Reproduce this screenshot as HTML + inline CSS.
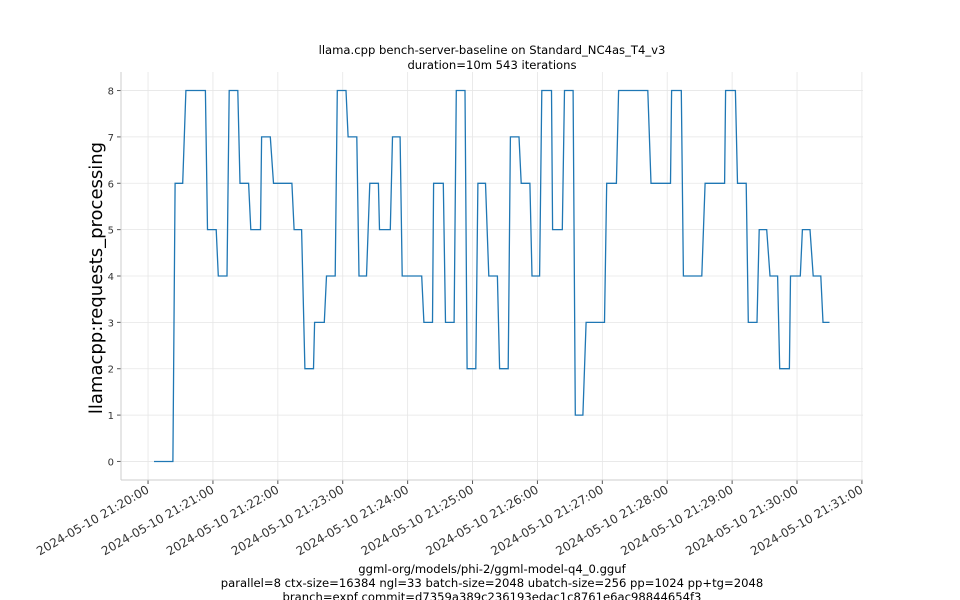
<!DOCTYPE html>
<html><head><meta charset="utf-8"><style>
body{margin:0;background:#fff;}
svg{display:block;font-family:"DejaVu Sans","Liberation Sans",sans-serif;}
</style></head><body>
<svg id="chart" width="960" height="600">
<g id="grid"></g>
<g id="axes"></g>
<path id="series" fill="none" stroke="#1f77b4" stroke-width="1.3"/>
<text x="492" y="54" text-anchor="middle" font-size="11.6" fill="#000">llama.cpp bench-server-baseline on Standard_NC4as_T4_v3</text>
<text x="492" y="69" text-anchor="middle" font-size="11.6" fill="#000">duration=10m 543 iterations</text>
<text transform="translate(102,278) rotate(-90)" text-anchor="middle" font-size="18" fill="#000">llamacpp:requests_processing</text>
<text x="492" y="573" text-anchor="middle" font-size="11.6" fill="#000">ggml-org/models/phi-2/ggml-model-q4_0.gguf</text>
<text x="492" y="587" text-anchor="middle" font-size="11.6" fill="#000">parallel=8 ctx-size=16384 ngl=33 batch-size=2048 ubatch-size=256 pp=1024 pp+tg=2048</text>
<text x="492" y="601" text-anchor="middle" font-size="11.6" fill="#000">branch=expf commit=d7359a389c236193edac1c8761e6ac98844654f3</text>
</svg>
<script>
// seconds since 2024-05-10 21:20:00
const times=[5.5,23,25,32,35,53,55,63,65,73,75,83,85,93,95,104,105,113,116,133,135,142,145,153,154,163,165,173,175,183,185,193,195,202,205,213,214,224,226,233,235,253,255,263,264,273,275,283,285,293,295,303,305,312,315,323,325,333,335,343,345,353,355,362,364,373,374,383,385,393,395,402,405,422,424,433,435,462,465,483,484,493,495,512,515,533,534,543,545,553,555,563,565,572,575,582,584,593,594,603,605,612,615,622,624,630];
const values=[0,0,6,6,8,8,5,5,4,4,8,8,6,6,5,5,7,7,6,6,5,5,2,2,3,3,4,4,8,8,7,7,4,4,6,6,5,5,7,7,4,4,3,3,6,6,3,3,8,8,2,2,6,6,4,4,2,2,7,7,6,6,4,4,8,8,5,5,8,8,1,1,3,3,6,6,8,8,6,6,8,8,4,4,6,6,8,8,6,6,3,3,5,5,4,4,2,2,4,4,5,5,4,4,3,3];
const yTicks=[0,1,2,3,4,5,6,7,8];
const xTickMinutes=[20,21,22,23,24,25,26,27,28,29,30,31];

const L=121,R=863,T=72,B=480;
const tMin=-25,tMax=661,vMin=-0.4,vMax=8.4;
const xs=t=>L+(t-tMin)/(tMax-tMin)*(R-L);
const ys=v=>B-(v-vMin)/(vMax-vMin)*(B-T);
const NS="http://www.w3.org/2000/svg";
const grid=document.getElementById('grid'),axes=document.getElementById('axes');
function mk(tag,attrs,parent){const e=document.createElementNS(NS,tag);for(const k in attrs)e.setAttribute(k,attrs[k]);parent.appendChild(e);return e;}

yTicks.forEach(v=>{
  const y=ys(v);
  const g=mk('line',{x1:L,x2:R,y1:y,y2:y,stroke:'#e6e6e6','stroke-width':0.8},grid);
  
  
  const tk=mk('line',{x1:L-4,x2:L,y1:y,y2:y,stroke:'#555'},axes);
  
  
  const t=mk('text',{x:L-7,y:y+4,'text-anchor':'end','font-size':10,fill:'#333'},axes);
  t.textContent=v;
  
  
});
xTickMinutes.forEach(m=>{
  const x=xs((m-20)*60);
  const g=mk('line',{x1:x,x2:x,y1:T,y2:B,stroke:'#e6e6e6','stroke-width':0.8},grid);
  
  
  const tk=mk('line',{x1:x,x2:x,y1:B,y2:B+4,stroke:'#555'},axes);
  
  
  const t=mk('text',{x:x+2,y:B+12,'text-anchor':'end','font-size':12,fill:'#333',transform:`rotate(-30 ${x+2} ${B+12})`},axes);
  t.textContent='2024-05-10 21:'+m+':00';
  
  
});
const la=mk('line',{x1:L,x2:L,y1:T,y2:B,stroke:'#ccc'},axes);


const lb=mk('line',{x1:L,x2:R,y1:B,y2:B,stroke:'#ccc'},axes);



document.getElementById('series').setAttribute('d',times.map((t,i)=>(i?'L':'M')+xs(t).toFixed(1)+','+ys(values[i]).toFixed(1)).join(''));
</script>
</body></html>
